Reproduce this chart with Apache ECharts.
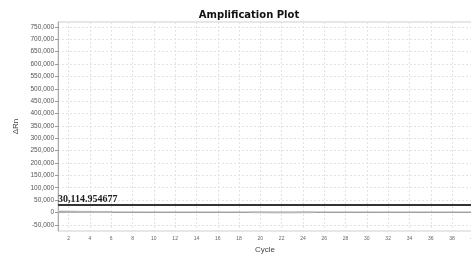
<!DOCTYPE html>
<html lang="en">
<head>
    <meta charset="UTF-8">
    <title>Amplification Plot</title>
    <style>
        html, body { margin: 0; padding: 0; background: #fff; }
    </style>
</head>
<body>
<div id="main" style="width: 471px;height: 259px;"></div>
<script src="https://cdn.jsdelivr.net/npm/echarts@6/dist/echarts.min.js"></script>
<script type="text/javascript">

    // cycles 1..41
    var cycles = [1, 2, 3, 4, 5, 6, 7, 8, 9, 10, 11, 12, 13, 14, 15, 16, 17, 18, 19, 20,
        21, 22, 23, 24, 25, 26, 27, 28, 29, 30, 31, 32, 33, 34, 35, 36, 37, 38, 39, 40, 41];

    // flat sample curve (dRn) near zero
    var baseRn = [2500, 2300, 2100, 1900, 1800, 1700, 1600, 1600, 1500, 1500, 1500, 1500, 1500, 1500,
        1500, 1500, 1500, 1500, 1500, 1500, 1500, 1500, 1500, 1500, 1500, 1500, 1500, 1500,
        1500, 1500, 1500, 1500, 1500, 1500, 1500, 1500, 1500, 1500, 1500, 1500, 1500];

    // faint early curve, cycles 1-6
    var earlyCycles = [1, 2, 3, 4, 5, 6];
    var earlyRn = [4500, 3800, 3000, 2400, 1900, 1600];

    // faint dip, cycles 19-25
    var midCycles = [19, 20, 21, 22, 23, 24, 25];
    var midRn = [1000, -300, -1200, -1500, -1200, -300, 1000];

    var threshold = 30114.954677;

    var yTicks = [-50000, 0, 50000, 100000, 150000, 200000, 250000, 300000, 350000, 400000,
        450000, 500000, 550000, 600000, 650000, 700000, 750000];
    var xTicks = [2, 4, 6, 8, 10, 12, 14, 16, 18, 20, 22, 24, 26, 28, 30, 32, 34, 36, 38, 40];

    function pairs(xs, ys) {
        var out = [];
        for (var i = 0; i < xs.length; i++) {
            out.push([xs[i], ys[i]]);
        }
        return out;
    }

    var gridLine = { show: true, lineStyle: { color: '#e2e2e2', type: [2, 2], width: 1 } };

    var option = {
        animation: false,
        title: {
            text: 'Amplification Plot',
            left: 244,
            textAlign: 'center',
            top: 5,
            textStyle: { fontFamily: 'DejaVu Sans', fontWeight: 'bold', fontSize: 10, color: '#111' }
        },
        grid: {
            left: 58, top: 22, width: 426, height: 209,
            outerBoundsMode: 'none',
            show: true, borderColor: '#cfcfcf', borderWidth: 1, containLabel: false
        },
        xAxis: {
            type: 'value',
            min: 1,
            max: 41,
            name: 'Cycle',
            nameLocation: 'middle',
            nameGap: 15,
            nameTextStyle: { fontFamily: 'Liberation Sans', fontSize: 8, color: '#444', padding: [0, 12, 0, 0] },
            axisLine: { lineStyle: { color: '#aaa' } },
            axisTick: { show: false, customValues: xTicks },
            axisLabel: { customValues: xTicks, fontFamily: 'Liberation Sans', fontSize: 5, color: '#666', margin: 5 },
            splitLine: gridLine
        },
        yAxis: {
            type: 'value',
            min: -75000,
            max: 770000,
            name: 'ΔRn',
            nameLocation: 'middle',
            nameGap: 31,
            nameTextStyle: { fontFamily: 'Liberation Sans', fontSize: 8, color: '#444' },
            axisLine: { show: true, lineStyle: { color: '#aaa' } },
            axisTick: { show: true, length: 3, customValues: yTicks, lineStyle: { color: '#999' } },
            axisLabel: {
                customValues: yTicks, fontFamily: 'Liberation Sans', fontSize: 6.5, color: '#555', margin: 4,
                formatter: function (v) { return v.toLocaleString('en-US'); }
            },
            splitLine: gridLine
        },
        series: [
            {
                type: 'line',
                data: pairs(earlyCycles, earlyRn),
                symbol: 'none',
                smooth: true,
                lineStyle: { color: '#d8d8d8', width: 2 },
                z: 2
            },
            {
                type: 'line',
                data: pairs(midCycles, midRn),
                symbol: 'none',
                smooth: true,
                lineStyle: { color: '#e0e0e0', width: 2 },
                z: 2
            },
            {
                type: 'line',
                data: pairs(cycles, baseRn),
                symbol: 'none',
                lineStyle: { color: '#9a9a9a', width: 1 },
                z: 3,
                markLine: {
                    silent: true,
                    symbol: 'none',
                    lineStyle: { color: '#333', width: 2, type: 'solid' },
                    label: {
                        show: true,
                        position: 'insideStartTop',
                        distance: [0, 1],
                        formatter: '30,114.954677',
                        fontFamily: 'Liberation Serif',
                        fontWeight: 'bold',
                        fontSize: 10,
                        color: '#222'
                    },
                    data: [{ yAxis: threshold }]
                }
            }
        ]
    };

    var myChart = echarts.init(document.getElementById('main'));
    myChart.setOption(option);
</script>
</body>
</html>
